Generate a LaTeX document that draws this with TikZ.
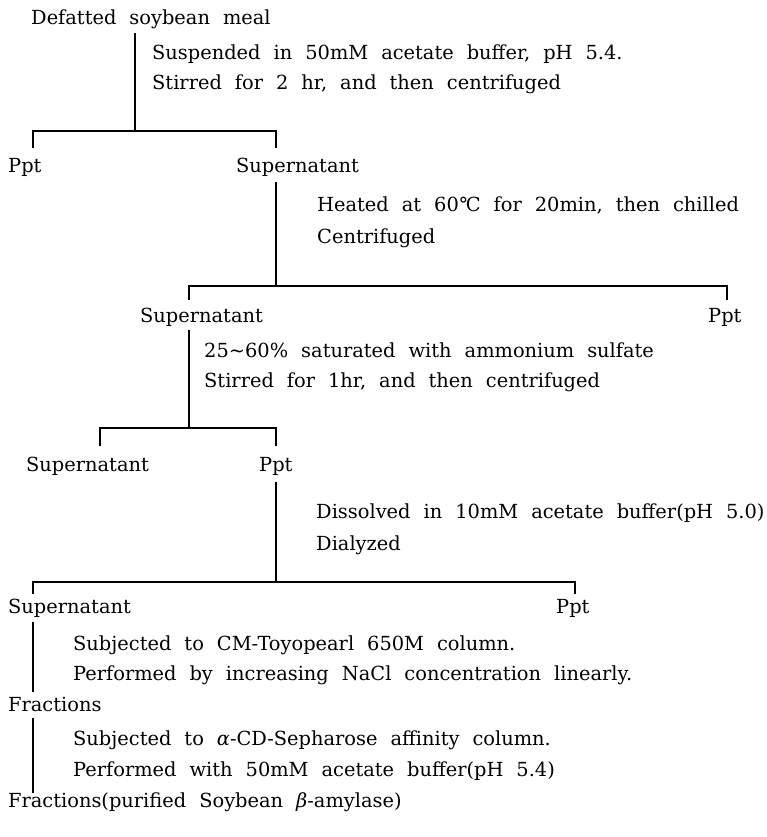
\documentclass[tikz,border=0pt]{standalone}
\usepackage{fontspec}
\setmainfont{DejaVu Serif}
\begin{document}
\begin{tikzpicture}[x=1pt,y=-1pt,
  txt/.style={inner sep=0pt, anchor=base west,
    font=\fontsize{19.4}{22}\selectfont,
    execute at begin node={\spaceskip=13pt plus 1pt minus 1pt\relax}},
  conn/.style={line width=1.4pt, black, line cap=butt}]
\useasboundingbox (0,0) rectangle (767,837);
\fill[white] (0,0) rectangle (767,837);

% texts
\node[txt] (defat) at (31,25) {Defatted soybean meal};
\node[txt] (s1a) at (152,60) {Suspended in 50mM acetate buffer, pH 5.4.};
\node[txt] (s1b) at (152,90) {Stirred for 2 hr, and then centrifuged};
\node[txt] (ppt1) at (8,173) {Ppt};
\node[txt] (sup1) at (236,173) {Supernatant};
\node[txt] (s2a) at (317,211) {Heated at 60\kern-0.02em°\kern-0.12em C for 20min, then chilled};
\node[txt] (s2b) at (317,243) {Centrifuged};
\node[txt] (sup2) at (140,322) {Supernatant};
\node[txt] (ppt2) at (708,322) {Ppt};
\node[txt] (s3a) at (204,357) {25\textasciitilde60\% saturated with ammonium sulfate};
\node[txt] (s3b) at (204,387) {Stirred for 1hr, and then centrifuged};
\node[txt] (sup3) at (26,471) {Supernatant};
\node[txt] (ppt3) at (259,471) {Ppt};
\node[txt] (s4a) at (316,518) {Dissolved in 10mM acetate buffer(pH 5.0)};
\node[txt] (s4b) at (316,550) {Dialyzed};
\node[txt] (sup4) at (8,613) {Supernatant};
\node[txt] (ppt4) at (556,613) {Ppt};
\node[txt] (s5a) at (73,650) {Subjected to CM-Toyopearl 650M column.};
\node[txt] (s5b) at (73,680) {Performed by increasing NaCl concentration linearly.};
\node[txt] (frac1) at (8,711) {Fractions};
\node[txt] (s6a) at (73,745) {Subjected to \textit{α}-CD-Sepharose affinity column.};
\node[txt] (s6b) at (73,776) {Performed with 50mM acetate buffer(pH 5.4)};
\node[txt] (frac2) at (8,807) {Fractions(purified Soybean \textit{β}-amylase)};

% junction coordinates
\coordinate (t1) at (135,33);   \coordinate (j1) at (135,131);
\coordinate (l1) at (33,131);   \coordinate (r1) at (276,131);
\coordinate (l1e) at (33,148);  \coordinate (r1e) at (276,148);
\coordinate (t2) at (276,182);  \coordinate (j2) at (276,286);
\coordinate (l2) at (189,286);  \coordinate (r2) at (727,286);
\coordinate (l2e) at (189,300); \coordinate (r2e) at (727,300);
\coordinate (t3) at (189,330);  \coordinate (j3) at (189,428);
\coordinate (l3) at (100,428);  \coordinate (r3) at (276,428);
\coordinate (l3e) at (100,446); \coordinate (r3e) at (276,446);
\coordinate (t4) at (276,482);  \coordinate (j4) at (276,582);
\coordinate (l4) at (33,582);   \coordinate (r4) at (575,582);
\coordinate (l4e) at (33,594);  \coordinate (r4e) at (575,594);
\coordinate (t5) at (33,622);   \coordinate (b5) at (33,692);
\coordinate (t6) at (33,718);   \coordinate (b6) at (33,793);

% connectors
\draw[conn] (t1) -- (j1);
\draw[conn] (l1e) -- (l1) -- (r1) -- (r1e);
\draw[conn] (t2) -- (j2);
\draw[conn] (l2e) -- (l2) -- (r2) -- (r2e);
\draw[conn] (t3) -- (j3);
\draw[conn] (l3e) -- (l3) -- (r3) -- (r3e);
\draw[conn] (t4) -- (j4);
\draw[conn] (l4e) -- (l4) -- (r4) -- (r4e);
\draw[conn] (t5) -- (b5);
\draw[conn] (t6) -- (b6);
\end{tikzpicture}
\end{document}
